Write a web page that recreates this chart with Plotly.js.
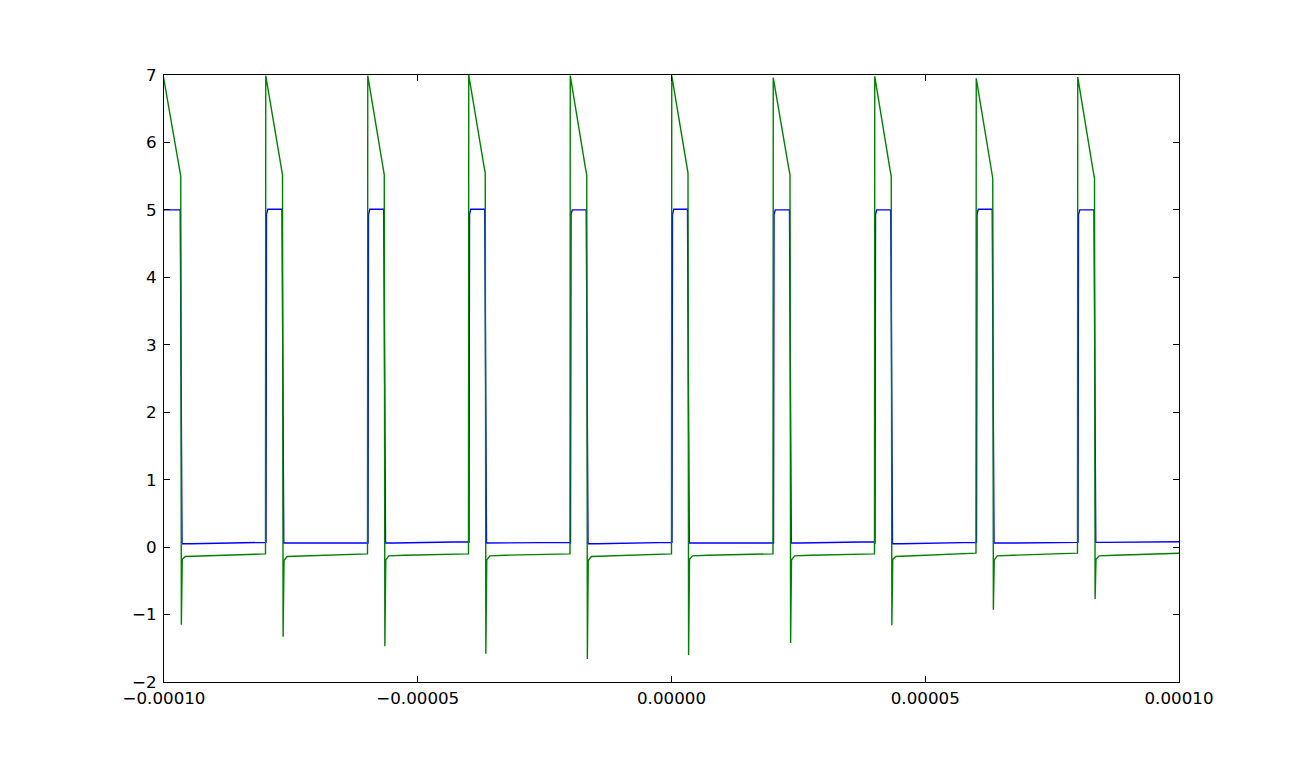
<!DOCTYPE html>
<html>
<head>
<meta charset="utf-8">
<script src="https://cdn.plot.ly/plotly-3.0.1.min.js"></script>
<style>html,body{margin:0;padding:0;background:#fff}#chart{width:1310px;height:758px}</style>
</head>
<body>
<div id="chart"></div>
<script>
// Event times in microseconds
const riseUs  = [-100.4, -79.9, -59.8, -39.9, -19.9, 0.1, 20.1, 40.1, 60.1, 80.1];
const fallUs  = [-96.7, -76.65, -56.6, -36.7, -16.7, 3.25, 23.35, 43.3, 63.3, 83.35];
const endUs = 100.5;

// Blue channel levels
const blueHigh = [5.0, 5.01, 5.01, 5.01, 5.0, 5.01, 5.0, 5.0, 5.01, 5.0];
const blueLow  = [0.05, 0.06, 0.06, 0.06, 0.05, 0.06, 0.06, 0.05, 0.06, 0.07];
const blueLowEnd = [0.07, 0.07, 0.08, 0.07, 0.07, 0.07, 0.08, 0.07, 0.07, 0.08];

// Green channel levels
const greenPeak  = [7.12, 6.99, 6.99, 7.0, 6.99, 6.99, 6.96, 6.98, 6.95, 6.97];
const greenKnee  = [5.5, 5.52, 5.52, 5.55, 5.52, 5.55, 5.52, 5.5, 5.47, 5.47];
const greenSpike = [-1.15, -1.33, -1.47, -1.58, -1.66, -1.60, -1.42, -1.16, -0.93, -0.77];
const greenDip   = [-0.18, -0.2, -0.19, -0.19, -0.2, -0.18, -0.19, -0.18, -0.19, -0.18];
const greenSettle= [-0.13, -0.13, -0.12, -0.12, -0.13, -0.12, -0.12, -0.13, -0.12, -0.12];
const greenPre   = [-0.10, -0.10, -0.10, -0.10, -0.10, -0.10, -0.10, -0.09, -0.09, -0.09];

const xTickVals = [-0.0001, -0.00005, 0, 0.00005, 0.0001];
const xTickText = ['\u22120.00010', '\u22120.00005', '0.00000', '0.00005', '0.00010'];
const yTickVals = [-2, -1, 0, 1, 2, 3, 4, 5, 6, 7];
const yTickText = ['\u22122', '\u22121', '0', '1', '2', '3', '4', '5', '6', '7'];

const us = 1e-6;
const bx = [], by = [], gx = [], gy = [];
for (let i = 0; i < riseUs.length; i++) {
  const r = riseUs[i], f = fallUs[i];
  const next = i + 1 < riseUs.length ? riseUs[i + 1] : endUs;
  // blue
  bx.push(r * us, (r + 0.1) * us, (r + 0.35) * us, (f - 0.1) * us, (f + 0.25) * us, (f + 2) * us, (next - 0.05) * us);
  by.push(blueLow[i], 4.93, blueHigh[i], blueHigh[i], blueLow[i], blueLow[i], blueLowEnd[i]);
  // green
  gx.push((r - 0.05) * us, (f - 0.25) * us, f * us, (f + 0.12) * us, (f + 0.3) * us, (f + 0.9) * us, (f + 4) * us, (next - 0.1) * us);
  gy.push(greenPeak[i], greenKnee[i] + 0.1, greenKnee[i], greenSpike[i], greenDip[i], greenSettle[i] - 0.01, greenSettle[i], greenPre[i]);
}

const traces = [
  {x: bx, y: by, mode: 'lines', line: {color: '#0000ff', width: 1.4}, hoverinfo: 'skip'},
  {x: gx, y: gy, mode: 'lines', line: {color: '#008000', width: 1.4}, hoverinfo: 'skip'}
];

const axisCommon = {
  showgrid: false, zeroline: false, showline: true, linecolor: '#000', linewidth: 1,
  mirror: 'ticks', ticks: 'inside', ticklen: 6, tickwidth: 1, tickcolor: '#000',
  tickfont: {family: 'DejaVu Sans', size: 16.7, color: '#000'}
};

const layout = {
  width: 1310, height: 758,
  margin: {l: 164, r: 131, t: 75, b: 76, pad: 0},
  paper_bgcolor: '#fff', plot_bgcolor: '#fff',
  showlegend: false,
  xaxis: Object.assign({}, axisCommon, {range: [-0.0001, 0.0001], tickmode: 'array', tickvals: xTickVals, ticktext: xTickText, ticklabelstandoff: 1}),
  yaxis: Object.assign({}, axisCommon, {range: [-2, 7], tickmode: 'array', tickvals: yTickVals, ticktext: yTickText, ticklabelstandoff: 3})
};

Plotly.newPlot('chart', traces, layout, {staticPlot: true});
</script>
</body>
</html>
